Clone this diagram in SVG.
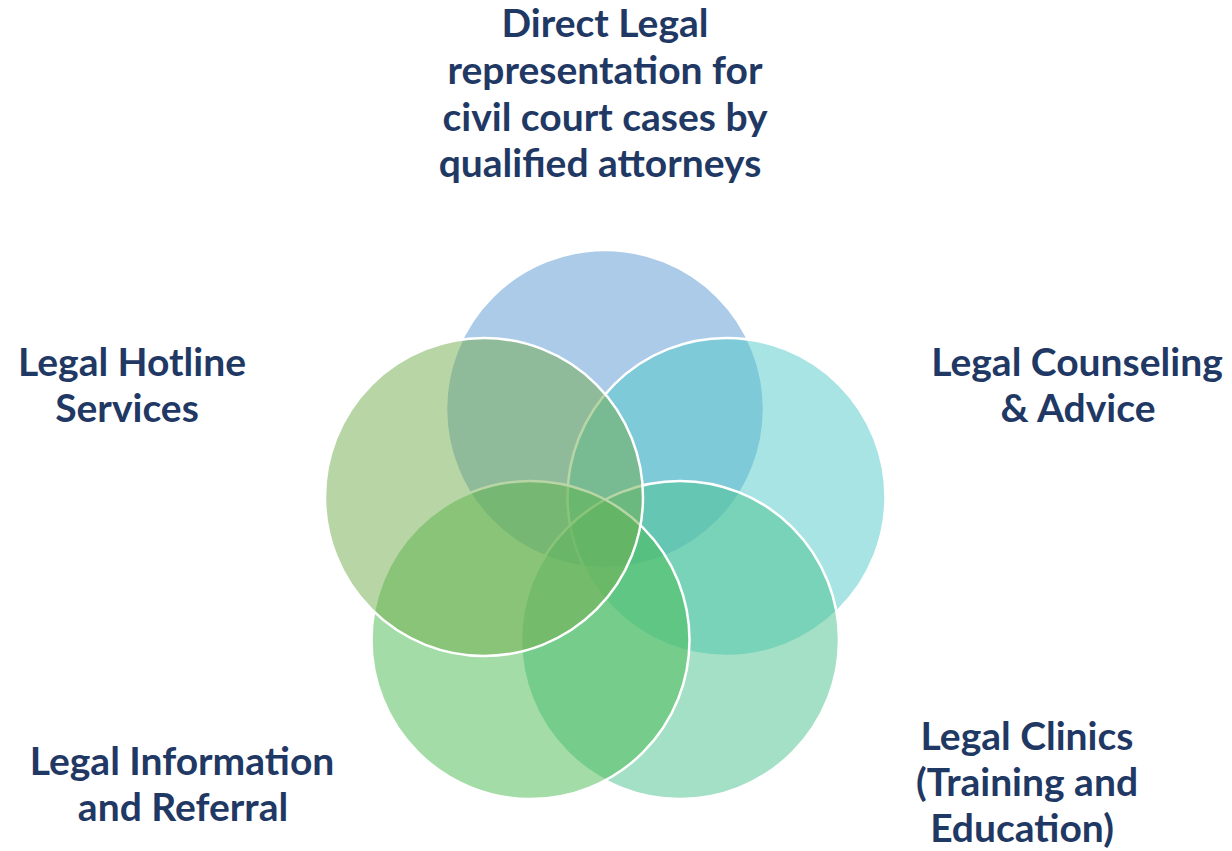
<svg xmlns="http://www.w3.org/2000/svg" width="1232" height="851" viewBox="0 0 1232 851">
<style>
.c{stroke:#FFFFFF;stroke-width:2.5;}
.t{font-family:Lato,"Liberation Sans",sans-serif;font-weight:bold;font-size:39px;fill:#1F3864;text-anchor:middle;}
</style>
<rect width="1232" height="851" fill="#FFFFFF"/>
<g id="circle-top"><circle class="c" cx="605" cy="409" r="159" fill="rgba(89,151,211,0.5)"/></g>
<g id="circle-right"><circle class="c" cx="726.5" cy="497" r="159" fill="rgba(81,201,201,0.5)"/></g>
<g id="circle-bottom-right"><circle class="c" cx="680" cy="640" r="159" fill="rgba(73,193,141,0.5)"/></g>
<g id="circle-bottom-left"><circle class="c" cx="530.5" cy="640" r="159" fill="rgba(71,185,79,0.5)"/></g>
<g id="circle-left"><circle class="c" cx="484" cy="497" r="159" fill="rgba(113,171,75,0.5)"/></g>
<g id="connectors"></g>
<g id="label-top">
<text class="t" x="605" y="37">Direct Legal</text>
<text class="t" x="605" y="84">representation for</text>
<text class="t" x="605" y="131">civil court cases by</text>
<text class="t" x="600" y="177">qualified attorneys</text>
</g>
<g id="label-left">
<text class="t" x="132" y="376">Legal Hotline</text>
<text class="t" x="127" y="422">Services</text>
</g>
<g id="label-right">
<text class="t" x="1077" y="376">Legal Counseling</text>
<text class="t" x="1078" y="422">&amp; Advice</text>
</g>
<g id="label-bottom-left">
<text class="t" x="182" y="775">Legal Information</text>
<text class="t" x="183" y="821">and Referral</text>
</g>
<g id="label-bottom-right">
<text class="t" x="1027" y="750">Legal Clinics</text>
<text class="t" x="1027" y="796">(Training and</text>
<text class="t" x="1022" y="842">Education)</text>
</g>
</svg>
